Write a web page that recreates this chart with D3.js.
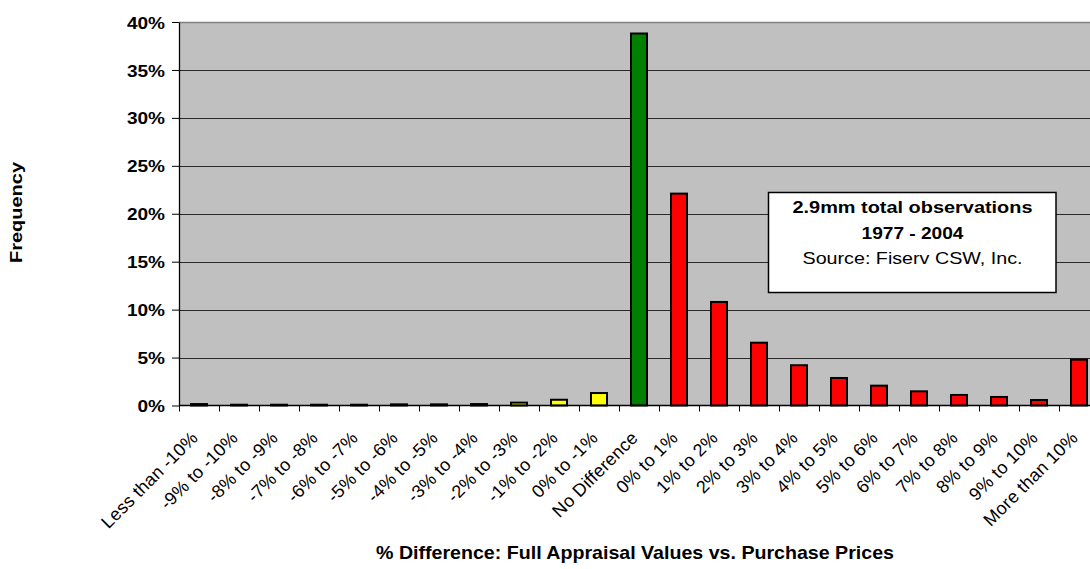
<!DOCTYPE html>
<html>
<head>
<meta charset="utf-8">
<script src="https://cdn.jsdelivr.net/npm/d3@7"></script>
<style>
  html, body { margin: 0; padding: 0; background: #fff; }
  svg { display: block; font-family: Arial, "Liberation Sans", sans-serif; }
</style>
</head>
<body>
<svg id="chart" width="1090" height="569"></svg>
<script>
// ---- data ----
const categories = [
  "Less than -10%", "-9% to -10%", "-8% to -9%", "-7% to -8%", "-6% to -7%",
  "-5% to -6%", "-4% to -5%", "-3% to -4%", "-2% to -3%", "-1% to -2%",
  "0% to -1%", "No Difference", "0% to 1%", "1% to 2%", "2% to 3%",
  "3% to 4%", "4% to 5%", "5% to 6%", "6% to 7%", "7% to 8%",
  "8% to 9%", "9% to 10%", "More than 10%"
];
const frequency = [
  0.15, 0.08, 0.08, 0.08, 0.08,
  0.12, 0.12, 0.15, 0.30, 0.60,
  1.30, 38.8, 22.1, 10.8, 6.55,
  4.20, 2.87, 2.07, 1.48, 1.10,
  0.89, 0.57, 4.78
];
const groups = [
  "below", "below", "below", "below", "below",
  "below", "below", "below", "below", "below",
  "below", "equal", "above", "above", "above",
  "above", "above", "above", "above", "above",
  "above", "above", "above"
];
const yTicks = [0, 5, 10, 15, 20, 25, 30, 35, 40];
const noteLines = ["2.9mm total observations", "1977 - 2004", "Source: Fiserv CSW, Inc."];
const yTitle = "Frequency";
const xTitle = "% Difference:  Full Appraisal Values vs. Purchase Prices";

// ---- layout ----
const svg = d3.select("#chart");
const pLeft = 179, pRight = 1099, pTop = 22, pBottom = 405.5;
const colorOf = { below: "#FFFF00", equal: "#008000", above: "#FF0000" };

const x = d3.scaleBand().domain(categories).range([pLeft, pRight])
  .paddingInner(0.6).paddingOuter(0.3);
const y = d3.scaleLinear().domain([0, 40]).range([pBottom, pTop]);

// plot background
svg.append("rect").attr("x", pLeft).attr("y", pTop)
  .attr("width", pRight - pLeft).attr("height", pBottom - pTop)
  .attr("fill", "#C0C0C0");

// gridlines
svg.append("g").selectAll("line").data(yTicks.filter(d => d > 0)).join("line")
  .attr("x1", pLeft).attr("x2", pRight)
  .attr("y1", d => Math.round(y(d)) + 0.5).attr("y2", d => Math.round(y(d)) + 0.5)
  .attr("stroke", d => d === 40 ? "#808080" : "#2a2a2a")
  .attr("stroke-width", d => d === 40 ? 1.5 : 1);

// bars
svg.append("g").selectAll("rect").data(categories).join("rect")
  .attr("x", d => x(d))
  .attr("width", x.bandwidth())
  .attr("y", (d, i) => y(frequency[i]))
  .attr("height", (d, i) => y(0) - y(frequency[i]))
  .attr("fill", (d, i) => colorOf[groups[i]])
  .attr("stroke", "#000").attr("stroke-width", 2);

// y axis
const yAxis = d3.axisLeft(y).tickValues(yTicks)
  .tickFormat(d => d + "%").tickSizeInner(7).tickSizeOuter(0);
const gy = svg.append("g").attr("transform", `translate(${pLeft},0)`).call(yAxis);
gy.select(".domain").attr("stroke", "#000").attr("stroke-width", 1.3);
gy.selectAll(".tick line").attr("stroke", "#000");
gy.selectAll(".tick text")
  .attr("x", -12.5)
  .attr("dy", "0.36em")
  .attr("transform", "scale(1.12,1)")
  .attr("font-size", 17).attr("font-weight", "bold").attr("fill", "#000")
  .attr("font-family", "Arial, 'Liberation Sans', sans-serif");

// x axis line
svg.append("line").attr("x1", pLeft).attr("x2", pRight)
  .attr("y1", pBottom).attr("y2", pBottom)
  .attr("stroke", "#000").attr("stroke-width", 1.3);
// x ticks at band boundaries
const bounds = d3.range(categories.length + 1).map(i => x.range()[0] + i * x.step());
svg.append("g").selectAll("line").data(bounds).join("line")
  .attr("x1", d => Math.round(d) + 0.5).attr("x2", d => Math.round(d) + 0.5)
  .attr("y1", pBottom).attr("y2", pBottom + 6)
  .attr("stroke", "#000").attr("stroke-width", 1);

// x tick labels
svg.append("g").selectAll("text").data(categories).join("text")
  .attr("transform", d => `translate(${x(d) + x.bandwidth() / 2},439) rotate(-45)`)
  .attr("text-anchor", "end")
  .attr("font-size", 18)
  .attr("letter-spacing", 0.2)
  .attr("fill", "#000")
  .text(d => d);

// axis titles
svg.append("text")
  .attr("transform", "translate(22,212.5) rotate(-90)")
  .attr("text-anchor", "middle")
  .attr("font-size", 16).attr("font-weight", "bold")
  .attr("textLength", 101).attr("lengthAdjust", "spacingAndGlyphs")
  .text(yTitle);

svg.append("text")
  .attr("x", 635).attr("y", 559)
  .attr("text-anchor", "middle")
  .attr("font-size", 19).attr("font-weight", "bold")
  .attr("textLength", 518).attr("lengthAdjust", "spacingAndGlyphs")
  .text(xTitle);

// note box
const note = svg.append("g");
note.append("rect").attr("x", 768.5).attr("y", 192.5).attr("width", 287.5).attr("height", 100)
  .attr("fill", "#fff").attr("stroke", "#000").attr("stroke-width", 1.5);
const noteSpecs = [
  { y: 213, w: 240, bold: true },
  { y: 238.5, w: 102, bold: true },
  { y: 264, w: 220, bold: false }
];
note.selectAll("text").data(noteLines).join("text")
  .attr("x", 912.5)
  .attr("y", (d, i) => noteSpecs[i].y)
  .attr("text-anchor", "middle")
  .attr("font-size", 17)
  .attr("font-weight", (d, i) => noteSpecs[i].bold ? "bold" : "normal")
  .attr("textLength", (d, i) => noteSpecs[i].w)
  .attr("lengthAdjust", "spacingAndGlyphs")
  .text(d => d);
</script>
</body>
</html>
